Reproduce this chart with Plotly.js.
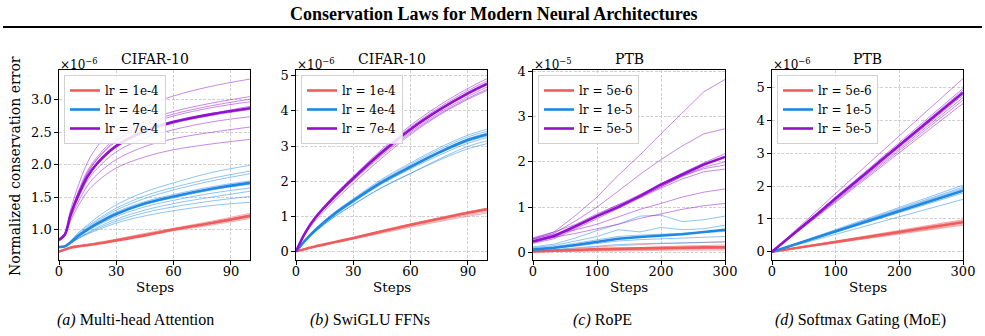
<!DOCTYPE html>
<html><head><meta charset="utf-8">
<script src="https://cdn.plot.ly/plotly-3.0.1.min.js"></script>
<style>html,body{margin:0;padding:0;background:#fff;} #chart{width:985px;height:336px;}</style>
</head><body><div id="chart"></div>
<script>
// ---------- Panel (a): Multi-head Attention, CIFAR-10 (x1e-6) ----------
const stepsA = [0, 3, 6, 10, 15, 20, 30, 45, 60, 80, 100];
const aRedMean = [0.66, 0.69, 0.72, 0.74, 0.76, 0.78, 0.83, 0.91, 1.00, 1.10, 1.21];
const aRedSeeds = [
  [0.66, 0.69, 0.73, 0.75, 0.77, 0.79, 0.85, 0.94, 1.02, 1.13, 1.25],
  [0.67, 0.70, 0.73, 0.75, 0.77, 0.80, 0.85, 0.93, 1.01, 1.11, 1.23],
  [0.66, 0.69, 0.72, 0.74, 0.77, 0.79, 0.84, 0.92, 1.00, 1.10, 1.21],
  [0.65, 0.68, 0.72, 0.74, 0.76, 0.78, 0.83, 0.91, 0.99, 1.09, 1.19],
  [0.66, 0.69, 0.72, 0.74, 0.76, 0.78, 0.83, 0.90, 0.98, 1.07, 1.17]
];
const aBlueMean = [0.73, 0.74, 0.80, 0.90, 1.00, 1.09, 1.24, 1.40, 1.51, 1.63, 1.72];
const aBlueSeeds = [
  [0.73, 0.74, 0.82, 0.95, 1.07, 1.19, 1.38, 1.58, 1.72, 1.88, 1.99],
  [0.73, 0.74, 0.81, 0.93, 1.05, 1.15, 1.33, 1.52, 1.65, 1.79, 1.90],
  [0.72, 0.73, 0.80, 0.91, 1.03, 1.13, 1.30, 1.48, 1.61, 1.75, 1.86],
  [0.74, 0.75, 0.81, 0.92, 1.02, 1.11, 1.27, 1.43, 1.54, 1.66, 1.75],
  [0.73, 0.74, 0.80, 0.90, 0.99, 1.08, 1.23, 1.39, 1.49, 1.61, 1.70],
  [0.73, 0.74, 0.79, 0.89, 0.98, 1.06, 1.20, 1.35, 1.45, 1.56, 1.64],
  [0.72, 0.73, 0.78, 0.87, 0.95, 1.03, 1.16, 1.30, 1.40, 1.50, 1.59],
  [0.73, 0.74, 0.79, 0.86, 0.94, 1.01, 1.13, 1.26, 1.35, 1.44, 1.51],
  [0.74, 0.75, 0.79, 0.86, 0.93, 0.99, 1.10, 1.21, 1.29, 1.37, 1.42]
];
const aPurpleMean = [0.84, 0.92, 1.22, 1.52, 1.82, 2.02, 2.29, 2.52, 2.66, 2.78, 2.87];
const aPurpleSeeds = [
  [0.84, 0.94, 1.30, 1.67, 2.04, 2.28, 2.61, 2.89, 3.06, 3.21, 3.32],
  [0.84, 0.93, 1.25, 1.58, 1.91, 2.12, 2.42, 2.67, 2.82, 2.95, 3.05],
  [0.83, 0.92, 1.24, 1.56, 1.88, 2.09, 2.38, 2.63, 2.78, 2.91, 3.01],
  [0.84, 0.92, 1.24, 1.55, 1.87, 2.08, 2.36, 2.60, 2.75, 2.88, 2.97],
  [0.82, 0.90, 1.21, 1.51, 1.81, 2.01, 2.29, 2.52, 2.66, 2.79, 2.90],
  [0.86, 0.94, 1.22, 1.51, 1.81, 2.01, 2.27, 2.50, 2.64, 2.76, 2.85],
  [0.84, 0.91, 1.20, 1.48, 1.76, 1.94, 2.20, 2.41, 2.54, 2.66, 2.74],
  [0.84, 0.91, 1.17, 1.42, 1.68, 1.85, 2.08, 2.28, 2.40, 2.50, 2.58],
  [0.84, 0.90, 1.13, 1.36, 1.59, 1.74, 1.95, 2.12, 2.23, 2.32, 2.39]
];

// ---------- Panel (b): SwiGLU FFNs, CIFAR-10 (x1e-6) ----------
const stepsB = [0, 5, 10, 20, 30, 45, 60, 75, 90, 100];
const bRedMean = [0, 0.07, 0.14, 0.26, 0.38, 0.57, 0.76, 0.93, 1.10, 1.20];
const bRedSeeds = [
  [0, 0.07, 0.14, 0.27, 0.39, 0.59, 0.78, 0.96, 1.13, 1.23],
  [0, 0.07, 0.13, 0.25, 0.37, 0.56, 0.74, 0.91, 1.07, 1.17],
  [0, 0.07, 0.13, 0.25, 0.36, 0.54, 0.72, 0.88, 1.04, 1.13],
  [0, 0.06, 0.13, 0.24, 0.35, 0.52, 0.69, 0.85, 1.00, 1.09]
];
const bBlueMean = [0, 0.32, 0.60, 1.06, 1.44, 1.97, 2.41, 2.82, 3.17, 3.33];
const bBlueSeeds = [
  [0, 0.33, 0.63, 1.11, 1.50, 2.06, 2.52, 2.95, 3.31, 3.48],
  [0, 0.33, 0.62, 1.09, 1.48, 2.02, 2.48, 2.90, 3.26, 3.42],
  [0, 0.32, 0.61, 1.07, 1.46, 1.99, 2.44, 2.85, 3.21, 3.37],
  [0, 0.32, 0.59, 1.05, 1.42, 1.95, 2.38, 2.79, 3.13, 3.29],
  [0, 0.31, 0.58, 1.03, 1.40, 1.92, 2.35, 2.74, 3.08, 3.24],
  [0, 0.30, 0.56, 0.98, 1.33, 1.82, 2.22, 2.63, 2.99, 3.15],
  [0, 0.30, 0.55, 0.98, 1.33, 1.82, 2.22, 2.60, 2.92, 3.07]
];
const bPurpleMean = [0, 0.55, 0.95, 1.55, 2.08, 2.82, 3.48, 4.03, 4.50, 4.77];
const bPurpleSeeds = [
  [0, 0.57, 0.98, 1.60, 2.14, 2.91, 3.59, 4.16, 4.64, 4.92],
  [0, 0.56, 0.97, 1.58, 2.12, 2.87, 3.54, 4.10, 4.58, 4.85],
  [0, 0.55, 0.96, 1.56, 2.09, 2.84, 3.50, 4.05, 4.53, 4.80],
  [0, 0.55, 0.94, 1.54, 2.07, 2.80, 3.46, 4.01, 4.47, 4.74],
  [0, 0.54, 0.93, 1.52, 2.04, 2.77, 3.41, 3.95, 4.41, 4.68],
  [0, 0.53, 0.92, 1.50, 2.02, 2.73, 3.37, 3.91, 4.36, 4.62],
  [0, 0.50, 0.87, 1.43, 1.94, 2.66, 3.33, 3.88, 4.33, 4.58]
];

// ---------- Panel (c): RoPE, PTB (x1e-5) ----------
const stepsC = [0, 33, 67, 100, 133, 167, 200, 233, 267, 300];
const cRedMean = [0.02, 0.03, 0.05, 0.07, 0.08, 0.09, 0.10, 0.10, 0.11, 0.11];
const cRedSeeds = [
  [0.03, 0.05, 0.08, 0.12, 0.15, 0.17, 0.19, 0.20, 0.22, 0.23],
  [0.02, 0.03, 0.05, 0.07, 0.09, 0.11, 0.13, 0.14, 0.15, 0.16],
  [0.01, 0.02, 0.03, 0.04, 0.05, 0.06, 0.07, 0.07, 0.08, 0.08],
  [0.02, 0.03, 0.04, 0.06, 0.07, 0.08, 0.08, 0.09, 0.09, 0.10],
  [0.01, 0.02, 0.02, 0.03, 0.03, 0.04, 0.04, 0.05, 0.05, 0.05]
];
const cBlueMean = [0.06, 0.10, 0.16, 0.23, 0.30, 0.34, 0.37, 0.40, 0.45, 0.50];
const cBlueSeeds = [
  [0.12, 0.18, 0.32, 0.48, 0.62, 0.80, 0.82, 0.68, 0.72, 0.80],
  [0.10, 0.15, 0.25, 0.35, 0.50, 0.45, 0.55, 0.50, 0.52, 0.60],
  [0.08, 0.12, 0.20, 0.28, 0.35, 0.38, 0.40, 0.42, 0.44, 0.46],
  [0.06, 0.09, 0.14, 0.20, 0.25, 0.28, 0.30, 0.32, 0.33, 0.35],
  [0.04, 0.06, 0.10, 0.14, 0.17, 0.19, 0.20, 0.21, 0.22, 0.23]
];
const cPurpleMean = [0.24, 0.36, 0.58, 0.80, 1.00, 1.24, 1.50, 1.72, 1.94, 2.11];
const cPurpleSeeds = [
  [0.30, 0.45, 0.82, 1.22, 1.70, 2.15, 2.62, 3.08, 3.55, 3.82],
  [0.28, 0.42, 0.70, 1.00, 1.35, 1.72, 2.05, 2.35, 2.62, 2.73],
  [0.25, 0.38, 0.60, 0.82, 1.05, 1.28, 1.50, 1.75, 1.98, 2.18],
  [0.32, 0.45, 0.62, 0.85, 1.05, 1.22, 1.45, 1.68, 1.88, 2.00],
  [0.22, 0.33, 0.55, 0.78, 1.02, 1.22, 1.45, 1.68, 1.85, 1.93],
  [0.20, 0.30, 0.52, 0.75, 0.98, 1.20, 1.42, 1.62, 1.78, 1.84],
  [0.30, 0.40, 0.50, 0.62, 0.78, 0.95, 1.08, 1.22, 1.33, 1.40],
  [0.25, 0.33, 0.42, 0.52, 0.62, 0.75, 0.85, 0.95, 1.03, 1.08]
];

// ---------- Panel (d): Softmax Gating (MoE), PTB (x1e-6) ----------
const stepsD = [0, 25, 50, 75, 100, 125, 150, 175, 200, 225, 250, 275, 300];
const stepsDSeeds = [0, 50, 100, 150, 200, 250, 300];
const stepsDLine = [0, 300];
const dRedMean = [0, 0.90];
const dRedSeeds = [[0, 0.98], [0, 0.95], [0, 0.92], [0, 0.88], [0, 0.84], [0, 0.81]];
const dBlueMean = [0, 1.86];
const dBlueSeeds = [[0, 2.03], [0, 1.97], [0, 1.93], [0, 1.89], [0, 1.84], [0, 1.79], [0, 1.60]];
const dPurpleMean = [0, 0.40, 0.81, 1.21, 1.63, 2.02, 2.43, 2.84, 3.24, 3.63, 4.05, 4.44, 4.85];
const dPurpleSeeds = [
  [0, 0.90, 1.78, 2.66, 3.54, 4.42, 5.28],
  [0, 0.84, 1.67, 2.50, 3.33, 4.16, 4.98],
  [0, 0.81, 1.63, 2.46, 3.29, 4.10, 4.92],
  [0, 0.80, 1.62, 2.43, 3.24, 4.05, 4.85],
  [0, 0.79, 1.59, 2.40, 3.18, 3.98, 4.78],
  [0, 0.78, 1.57, 2.35, 3.14, 3.92, 4.70],
  [0, 0.77, 1.55, 2.31, 3.08, 3.85, 4.62],
  [0, 0.76, 1.52, 2.27, 3.02, 3.77, 4.52]
];

// ---------- Labels ----------
const mainTitle = "Conservation Laws for Modern Neural Architectures";
const panelTitles = ["CIFAR-10", "CIFAR-10", "PTB", "PTB"];
const exponents = ["×10<sup>−6</sup>", "×10<sup>−6</sup>", "×10<sup>−5</sup>", "×10<sup>−6</sup>"];
const captionTags = ["(a)", "(b)", "(c)", "(d)"];
const captionTexts = ["Multi-head Attention", "SwiGLU FFNs", "RoPE", "Softmax Gating (MoE)"];
const legendNamesAB = ["lr = 1e-4", "lr = 4e-4", "lr = 7e-4"];
const legendNamesCD = ["lr = 5e-6", "lr = 1e-5", "lr = 5e-5"];
const xLabel = "Steps";
const yLabel = "Normalized conservation error";

// ---------- Styling ----------
const RED = "#F05C5C", BLUE = "#1E88E5", PURPLE = "#9310D0";
const W = 985, H = 336;
const FONT = "DejaVu Serif";
const axesPx = [[59, 250], [296, 487], [533, 725], [772, 963]];
const axTop = 70, axBot = 260;

const traces = [];
function group(ax, leg, xsSeeds, seeds, xsMean, mean, color, name, shape) {
  const xa = ax === 1 ? "x" : "x" + ax, ya = ax === 1 ? "y" : "y" + ax;
  seeds.forEach(s => traces.push({x: xsSeeds, y: s, xaxis: xa, yaxis: ya, mode: "lines",
    line: {color: color, width: 1, shape: shape}, opacity: 0.5, showlegend: false, hoverinfo: "skip"}));
  traces.push({x: xsMean, y: mean, xaxis: xa, yaxis: ya, mode: "lines", name: name,
    line: {color: color, width: 2.6, shape: shape}, legend: leg, showlegend: true});
}
group(1, "legend", stepsA, aRedSeeds, stepsA, aRedMean, RED, legendNamesAB[0], "spline");
group(1, "legend", stepsA, aBlueSeeds, stepsA, aBlueMean, BLUE, legendNamesAB[1], "spline");
group(1, "legend", stepsA, aPurpleSeeds, stepsA, aPurpleMean, PURPLE, legendNamesAB[2], "spline");
group(2, "legend2", stepsB, bRedSeeds, stepsB, bRedMean, RED, legendNamesAB[0], "spline");
group(2, "legend2", stepsB, bBlueSeeds, stepsB, bBlueMean, BLUE, legendNamesAB[1], "spline");
group(2, "legend2", stepsB, bPurpleSeeds, stepsB, bPurpleMean, PURPLE, legendNamesAB[2], "spline");
group(3, "legend3", stepsC, cRedSeeds, stepsC, cRedMean, RED, legendNamesCD[0], "linear");
group(3, "legend3", stepsC, cBlueSeeds, stepsC, cBlueMean, BLUE, legendNamesCD[1], "linear");
group(3, "legend3", stepsC, cPurpleSeeds, stepsC, cPurpleMean, PURPLE, legendNamesCD[2], "linear");
group(4, "legend4", stepsDLine, dRedSeeds, stepsDLine, dRedMean, RED, legendNamesCD[0], "linear");
group(4, "legend4", stepsDLine, dBlueSeeds, stepsDLine, dBlueMean, BLUE, legendNamesCD[1], "linear");
group(4, "legend4", stepsDSeeds, dPurpleSeeds, stepsD, dPurpleMean, PURPLE, legendNamesCD[2], "linear");

const axBase = {showline: true, mirror: true, linecolor: "#000", linewidth: 1.1, ticks: "outside", ticklen: 3.5,
  tickwidth: 1, tickcolor: "#000", showgrid: true, gridcolor: "#c4c4c4", griddash: "3px,1.5px", gridwidth: 0.8,
  zeroline: false, tickfont: {family: FONT, size: 13, color: "#000"}, fixedrange: true};
const yDomain = [(H - axBot) / H, (H - axTop) / H];
const yRanges = [[0.53, 3.46], [-0.246, 5.166], [-0.17, 4.03], [-0.25, 5.54]];
const xRanges = [[0, 100], [0, 100], [0, 300], [0, 300]];
const xDt = [30, 30, 100, 100];
const yFmt = [".1f", "d", "d", "d"];
const yDt = [0.5, 1, 1, 1];

const layout = {width: W, height: H, margin: {l: 0, r: 0, t: 0, b: 0}, paper_bgcolor: "#fff", plot_bgcolor: "#fff",
  showlegend: true, annotations: [], shapes: []};
for (let i = 0; i < 4; i++) {
  const s = i === 0 ? "" : String(i + 1);
  layout["xaxis" + s] = Object.assign({}, axBase, {domain: [axesPx[i][0] / W, axesPx[i][1] / W],
    range: xRanges[i], dtick: xDt[i], tick0: 0, anchor: "y" + s, ticklabelstandoff: -4});
  layout["yaxis" + s] = Object.assign({}, axBase, {domain: yDomain, range: yRanges[i], dtick: yDt[i],
    tick0: 0, tickformat: yFmt[i], anchor: "x" + s});
  const legKey = i === 0 ? "legend" : "legend" + (i + 1);
  layout[legKey] = {x: (axesPx[i][0] + 5) / W, y: (H - axTop - 5) / H, xanchor: "left", yanchor: "top",
    bgcolor: "rgba(255,255,255,0.85)", bordercolor: "#d0d0d0", borderwidth: 1,
    font: {family: FONT, size: 12, color: "#000"}, tracegroupgap: 0, itemwidth: 30};
  const cx = (axesPx[i][0] + axesPx[i][1]) / 2;
  layout.annotations.push({text: panelTitles[i], x: cx / W, y: (H - 59) / H, xref: "paper", yref: "paper",
    xanchor: "center", yanchor: "middle", showarrow: false, font: {family: FONT, size: 14, color: "#000"}});
  layout.annotations.push({text: exponents[i], x: (axesPx[i][0] - 1) / W, y: (H - 64) / H, xref: "paper", yref: "paper",
    xanchor: "left", yanchor: "middle", showarrow: false, font: {family: FONT, size: 12, color: "#000"}});
  layout.annotations.push({text: xLabel, x: cx / W, y: (H - 287) / H, xref: "paper", yref: "paper",
    xanchor: "center", yanchor: "middle", showarrow: false, font: {family: FONT, size: 13.5, color: "#000"}});
}
const capCenters = [135, 370, 602, 860];
for (let i = 0; i < 4; i++) {
  layout.annotations.push({text: "<i>" + captionTags[i] + "</i> " + captionTexts[i], x: capCenters[i] / W,
    y: (H - 320) / H, xref: "paper", yref: "paper", xanchor: "center", yanchor: "middle", showarrow: false,
    font: {family: "Liberation Serif", size: 16, color: "#000"}});
}
layout.annotations.push({text: yLabel, x: 15 / W, y: (H - 166) / H, xref: "paper", yref: "paper", textangle: -90,
  xanchor: "center", yanchor: "middle", showarrow: false, font: {family: FONT, size: 14, color: "#000"}});
layout.annotations.push({text: "<b>" + mainTitle + "</b>", x: 493 / W, y: (H - 14) / H, xref: "paper", yref: "paper",
  xanchor: "center", yanchor: "middle", showarrow: false, font: {family: "Liberation Serif", size: 18, color: "#000"}});
layout.shapes.push({type: "line", xref: "paper", yref: "paper", x0: 3 / W, x1: 982 / W, y0: (H - 27) / H, y1: (H - 27) / H,
  line: {color: "#000", width: 2}});

Plotly.newPlot("chart", traces, layout, {staticPlot: true, displayModeBar: false});
</script></body></html>
